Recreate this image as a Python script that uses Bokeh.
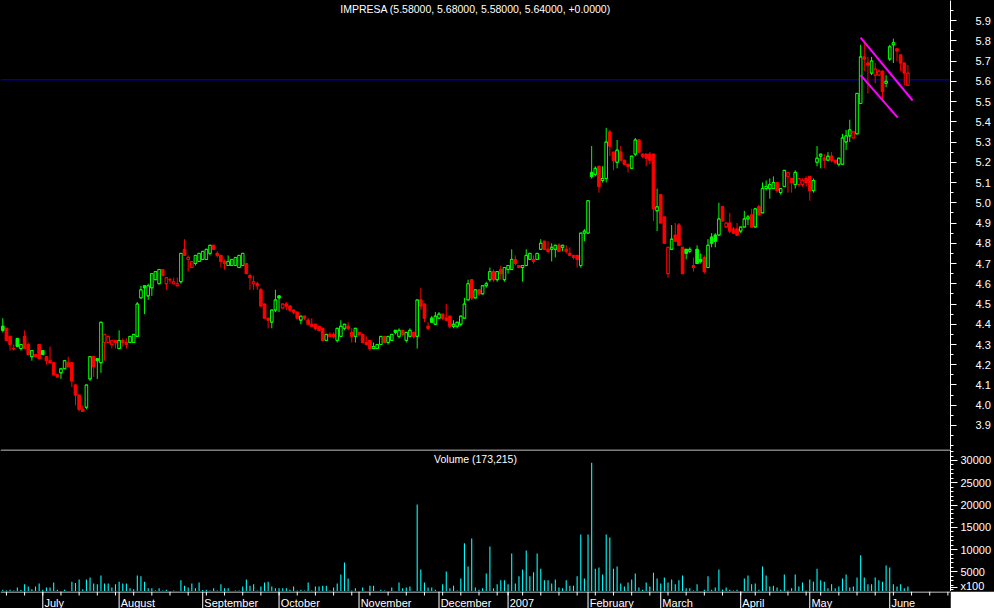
import numpy as np
import pandas as pd
from bokeh.plotting import figure
from bokeh.layouts import column
from bokeh.models import (ColumnDataSource, Range1d, LinearAxis, FixedTicker, Span,
                          NumeralTickFormatter, GlobalInlineStyleSheet)
from bokeh.core.properties import value
from bokeh.embed import file_html
from bokeh.resources import INLINE

# ---------------- data ----------------
title_text = "IMPRESA (5.58000, 5.68000, 5.58000, 5.64000, +0.0000)"
volume_title = "Volume (173,215)"
volume_unit = "x100"
first_day = "2006-06-16"
calendar_end = "2007-06-30"
holidays = ["2006-12-25", "2006-12-26", "2007-01-01", "2007-04-06", "2007-04-09", "2007-05-01"]

opens = [4.39, 4.38, 4.34, 4.28, 4.33, 4.28, 4.34, 4.30, 4.24, 4.25,
         4.30, 4.27, 4.24, 4.22, 4.21, 4.15, 4.16, 4.18, 4.21, 4.21,
         4.10, 4.05, 3.98, 3.99, 4.13, 4.24, 4.23, 4.21, 4.31, 4.31,
         4.30, 4.32, 4.28, 4.32, 4.31, 4.31, 4.31, 4.34, 4.53, 4.59,
         4.54, 4.58, 4.62, 4.60, 4.67, 4.60, 4.62, 4.60, 4.59, 4.61,
         4.77, 4.72, 4.68, 4.70, 4.71, 4.72, 4.72, 4.75, 4.79, 4.75,
         4.74, 4.71, 4.69, 4.69, 4.69, 4.68, 4.69, 4.70, 4.64, 4.60,
         4.60, 4.57, 4.50, 4.43, 4.41, 4.47, 4.54, 4.48, 4.50, 4.49,
         4.47, 4.46, 4.42, 4.44, 4.42, 4.40, 4.40, 4.39, 4.38, 4.32,
         4.35, 4.35, 4.32, 4.34, 4.38, 4.39, 4.36, 4.34, 4.36, 4.35,
         4.31, 4.32, 4.28, 4.28, 4.30, 4.34, 4.31, 4.32, 4.37, 4.34,
         4.37, 4.32, 4.34, 4.36, 4.34, 4.52, 4.50, 4.39, 4.43, 4.40,
         4.43, 4.45, 4.43, 4.44, 4.39, 4.39, 4.40, 4.43, 4.52, 4.62,
         4.53, 4.57, 4.55, 4.59, 4.62, 4.66, 4.62, 4.67, 4.62, 4.67,
         4.67, 4.72, 4.69, 4.68, 4.69, 4.72, 4.72, 4.72, 4.77, 4.81,
         4.77, 4.77, 4.77, 4.79, 4.78, 4.77, 4.75, 4.74, 4.74, 4.69,
         4.85, 4.85, 5.15, 5.14, 5.18, 5.11, 5.12, 5.35, 5.25, 5.20,
         5.25, 5.21, 5.19, 5.17, 5.24, 5.31, 5.24, 5.24, 5.24, 5.24,
         4.96, 5.04, 4.93, 4.65, 4.77, 4.84, 4.89, 4.78, 4.77, 4.76,
         4.69, 4.77, 4.72, 4.73, 4.68, 4.83, 4.84, 4.84, 4.98, 4.88,
         4.90, 4.87, 4.87, 4.86, 4.88, 4.92, 4.94, 4.88, 4.98, 4.95,
         5.07, 5.07, 5.07, 5.10, 5.05, 5.08, 5.13, 5.12, 5.09, 5.09,
         5.09, 5.12, 5.13, 5.06, 5.20, 5.23, 5.22, 5.21, 5.23, 5.21,
         5.19, 5.19, 5.30, 5.33, 5.32, 5.34, 5.49, 5.72, 5.69, 5.64,
         5.63, 5.63, 5.65, 5.59, 5.71, 5.78, 5.76, 5.73, 5.69, 5.58]

highs = [4.43, 4.38, 4.34, 4.30, 4.33, 4.30, 4.37, 4.31, 4.27, 4.25,
         4.30, 4.27, 4.24, 4.29, 4.21, 4.15, 4.18, 4.22, 4.24, 4.21,
         4.10, 4.05, 4.00, 4.10, 4.24, 4.24, 4.23, 4.41, 4.35, 4.34,
         4.32, 4.32, 4.37, 4.33, 4.33, 4.34, 4.35, 4.51, 4.59, 4.59,
         4.60, 4.65, 4.66, 4.67, 4.67, 4.63, 4.63, 4.63, 4.63, 4.75,
         4.82, 4.74, 4.71, 4.74, 4.75, 4.76, 4.77, 4.79, 4.79, 4.76,
         4.74, 4.72, 4.74, 4.72, 4.73, 4.74, 4.75, 4.70, 4.65, 4.64,
         4.61, 4.58, 4.50, 4.43, 4.47, 4.57, 4.54, 4.50, 4.51, 4.49,
         4.47, 4.46, 4.44, 4.44, 4.43, 4.43, 4.40, 4.39, 4.38, 4.35,
         4.36, 4.36, 4.38, 4.42, 4.40, 4.41, 4.38, 4.38, 4.36, 4.35,
         4.34, 4.32, 4.31, 4.30, 4.34, 4.34, 4.34, 4.35, 4.37, 4.38,
         4.37, 4.36, 4.38, 4.36, 4.52, 4.58, 4.50, 4.41, 4.44, 4.46,
         4.46, 4.45, 4.50, 4.44, 4.42, 4.41, 4.44, 4.53, 4.62, 4.62,
         4.57, 4.57, 4.59, 4.61, 4.68, 4.67, 4.66, 4.69, 4.68, 4.69,
         4.77, 4.74, 4.69, 4.69, 4.77, 4.75, 4.74, 4.75, 4.82, 4.81,
         4.81, 4.80, 4.79, 4.80, 4.79, 4.79, 4.78, 4.74, 4.74, 4.85,
         4.87, 5.01, 5.28, 5.18, 5.18, 5.18, 5.37, 5.36, 5.25, 5.31,
         5.28, 5.21, 5.19, 5.23, 5.32, 5.31, 5.24, 5.24, 5.25, 5.24,
         5.07, 5.04, 4.93, 4.78, 4.89, 4.90, 4.90, 4.78, 4.77, 4.78,
         4.73, 4.79, 4.75, 4.74, 4.82, 4.85, 4.85, 5.00, 4.98, 4.90,
         4.95, 4.88, 4.90, 4.88, 4.96, 4.94, 4.97, 4.97, 4.99, 5.10,
         5.11, 5.12, 5.13, 5.10, 5.07, 5.16, 5.15, 5.12, 5.16, 5.12,
         5.12, 5.13, 5.13, 5.12, 5.28, 5.24, 5.24, 5.25, 5.25, 5.21,
         5.22, 5.34, 5.36, 5.41, 5.35, 5.54, 5.78, 5.80, 5.72, 5.72,
         5.69, 5.66, 5.65, 5.63, 5.78, 5.81, 5.76, 5.73, 5.69, 5.68]

lows = [4.36, 4.32, 4.27, 4.27, 4.29, 4.27, 4.28, 4.25, 4.22, 4.24,
        4.23, 4.25, 4.20, 4.21, 4.15, 4.14, 4.13, 4.18, 4.19, 4.09,
        4.00, 3.97, 3.97, 3.98, 4.12, 4.14, 4.13, 4.16, 4.22, 4.31,
        4.28, 4.28, 4.28, 4.29, 4.28, 4.31, 4.31, 4.34, 4.53, 4.45,
        4.52, 4.54, 4.62, 4.60, 4.64, 4.57, 4.60, 4.60, 4.59, 4.60,
        4.74, 4.66, 4.68, 4.69, 4.71, 4.72, 4.72, 4.74, 4.77, 4.73,
        4.68, 4.67, 4.69, 4.69, 4.69, 4.68, 4.69, 4.65, 4.57, 4.57,
        4.57, 4.49, 4.43, 4.38, 4.38, 4.46, 4.46, 4.48, 4.47, 4.46,
        4.45, 4.43, 4.40, 4.42, 4.40, 4.39, 4.37, 4.37, 4.32, 4.32,
        4.34, 4.33, 4.31, 4.34, 4.37, 4.37, 4.31, 4.31, 4.34, 4.31,
        4.30, 4.27, 4.28, 4.28, 4.30, 4.31, 4.30, 4.32, 4.35, 4.33,
        4.34, 4.31, 4.34, 4.33, 4.28, 4.47, 4.41, 4.37, 4.41, 4.40,
        4.43, 4.42, 4.42, 4.38, 4.38, 4.38, 4.39, 4.43, 4.52, 4.52,
        4.53, 4.54, 4.55, 4.58, 4.61, 4.61, 4.61, 4.62, 4.61, 4.65,
        4.67, 4.69, 4.68, 4.61, 4.69, 4.72, 4.70, 4.72, 4.77, 4.77,
        4.75, 4.71, 4.73, 4.76, 4.76, 4.75, 4.74, 4.72, 4.68, 4.68,
        4.81, 4.85, 5.12, 5.13, 5.05, 5.10, 5.10, 5.23, 5.16, 5.17,
        5.21, 5.19, 5.15, 5.17, 5.23, 5.25, 5.22, 5.18, 5.19, 4.91,
        4.86, 4.90, 4.80, 4.63, 4.77, 4.81, 4.79, 4.65, 4.72, 4.75,
        4.66, 4.70, 4.70, 4.65, 4.68, 4.78, 4.78, 4.84, 4.91, 4.88,
        4.85, 4.85, 4.84, 4.85, 4.88, 4.89, 4.88, 4.88, 4.94, 4.95,
        5.06, 5.02, 5.07, 5.05, 5.04, 5.08, 5.05, 5.05, 5.07, 5.08,
        5.08, 5.08, 5.01, 5.05, 5.18, 5.17, 5.17, 5.21, 5.20, 5.19,
        5.18, 5.19, 5.26, 5.30, 5.32, 5.34, 5.49, 5.65, 5.54, 5.63,
        5.59, 5.63, 5.51, 5.57, 5.70, 5.69, 5.70, 5.65, 5.58, 5.58]

closes = [4.37, 4.32, 4.30, 4.28, 4.29, 4.30, 4.28, 4.25, 4.27, 4.24,
          4.23, 4.25, 4.22, 4.21, 4.15, 4.14, 4.18, 4.22, 4.19, 4.12,
          4.05, 3.98, 3.97, 4.10, 4.24, 4.19, 4.22, 4.41, 4.35, 4.34,
          4.32, 4.31, 4.32, 4.31, 4.30, 4.34, 4.35, 4.50, 4.57, 4.58,
          4.59, 4.65, 4.66, 4.67, 4.64, 4.63, 4.62, 4.61, 4.60, 4.75,
          4.74, 4.73, 4.71, 4.74, 4.75, 4.76, 4.77, 4.79, 4.77, 4.74,
          4.71, 4.70, 4.71, 4.72, 4.73, 4.74, 4.75, 4.65, 4.63, 4.61,
          4.59, 4.49, 4.43, 4.42, 4.47, 4.52, 4.53, 4.50, 4.49, 4.47,
          4.46, 4.43, 4.44, 4.43, 4.40, 4.39, 4.38, 4.37, 4.32, 4.35,
          4.34, 4.34, 4.38, 4.39, 4.40, 4.38, 4.34, 4.38, 4.35, 4.31,
          4.30, 4.28, 4.29, 4.30, 4.34, 4.31, 4.34, 4.35, 4.36, 4.37,
          4.35, 4.36, 4.37, 4.34, 4.52, 4.49, 4.43, 4.38, 4.41, 4.44,
          4.45, 4.43, 4.42, 4.39, 4.40, 4.41, 4.44, 4.50, 4.60, 4.53,
          4.57, 4.55, 4.59, 4.60, 4.66, 4.62, 4.66, 4.65, 4.68, 4.69,
          4.72, 4.70, 4.68, 4.69, 4.74, 4.75, 4.71, 4.75, 4.80, 4.77,
          4.76, 4.78, 4.79, 4.76, 4.79, 4.76, 4.74, 4.73, 4.72, 4.85,
          4.86, 5.01, 5.13, 5.17, 5.08, 5.12, 5.30, 5.28, 5.21, 5.26,
          5.21, 5.19, 5.18, 5.23, 5.31, 5.25, 5.23, 5.22, 5.21, 4.97,
          4.98, 4.90, 4.80, 4.78, 4.82, 4.81, 4.79, 4.65, 4.75, 4.77,
          4.68, 4.70, 4.71, 4.66, 4.79, 4.80, 4.81, 4.92, 4.91, 4.90,
          4.86, 4.85, 4.84, 4.88, 4.92, 4.93, 4.88, 4.97, 4.94, 5.07,
          5.08, 5.09, 5.10, 5.06, 5.07, 5.16, 5.15, 5.10, 5.15, 5.12,
          5.11, 5.10, 5.06, 5.11, 5.22, 5.24, 5.21, 5.23, 5.21, 5.20,
          5.22, 5.32, 5.33, 5.36, 5.35, 5.54, 5.72, 5.71, 5.68, 5.70,
          5.66, 5.65, 5.55, 5.60, 5.77, 5.79, 5.75, 5.69, 5.64, 5.64]

# volume in hundreds of shares (axis is "x100")
volumes = [1000, 800, 1000, 800, 1500, 900, 2200, 1700, 1100, 1700,
           2400, 1000, 1500, 1500, 2600, 1000, 700, 1000, 600, 2800,
           2500, 3300, 1100, 3300, 3700, 2400, 2200, 4200, 2400, 2400,
           1500, 2200, 2800, 2400, 2400, 1300, 1100, 4200, 4000, 2800,
           1300, 1300, 800, 1300, 800, 1000, 600, 800, 500, 3100,
           1900, 1500, 2400, 1300, 2600, 900, 1000, 800, 1300, 800,
           2200, 1300, 1300, 500, 800, 800, 1700, 3300, 1900, 2200,
           800, 1700, 2600, 2800, 1700, 1300, 1300, 1300, 1300, 1000,
           1700, 800, 1000, 800, 2600, 800, 1700, 1700, 1900, 1900,
           800, 1500, 2400, 4400, 7100, 3500, 800, 1300, 600, 1500,
           500, 1900, 1900, 500, 1000, 800, 500, 1500, 500, 2600,
           1300, 1500, 1700, 500, 20100, 5500, 2600, 1500, 1500, 1000,
           500, 2200, 5100, 1300, 1900, 800, 3500, 11400, 6200, 12500,
           1500, 1000, 1300, 4600, 10700, 1300, 2200, 3100, 3100, 2200,
           9100, 2400, 4000, 5500, 9800, 4000, 4900, 9100, 5700, 3100,
           3100, 2400, 3300, 1500, 1300, 3100, 1900, 1900, 4000, 13400,
           3500, 13400, 29500, 5700, 6000, 4400, 13400, 12700, 5700, 6200,
           2400, 1700, 2600, 3300, 4600, 1500, 1000, 2600, 1700, 4800,
           3500, 2400, 3700, 2600, 3300, 2200, 3100, 4200, 1300, 1300,
           800, 2200, 500, 1000, 4000, 1000, 1500, 5500, 1000, 1500,
           1000, 800, 1000, 500, 3500, 4200, 2200, 2400, 1000, 6200,
           4200, 1700, 1900, 1500, 1000, 4400, 800, 1300, 4400, 1700,
           2600, 800, 3300, 2800, 5700, 3100, 2800, 1300, 2200, 1300,
           1700, 3500, 4400, 1500, 1700, 3700, 8700, 3700, 2200, 2200,
           3700, 3100, 2800, 6400, 6000, 2200, 1700, 2200, 1300, 1732]

reference_level = 5.607          # horizontal blue line
trend_x0 = [236.0, 236.0]
trend_y0 = [5.815, 5.630]
trend_x1 = [250.3, 246.2]
trend_y1 = [5.505, 5.420]

price_ticks = [3.9, 4.0, 4.1, 4.2, 4.3, 4.4, 4.5, 4.6, 4.7, 4.8, 4.9,
               5.0, 5.1, 5.2, 5.3, 5.4, 5.5, 5.6, 5.7, 5.8, 5.9]
volume_ticks = [5000, 10000, 15000, 20000, 25000, 30000]

# ---------------- styling / layout ----------------
FONT = "Liberation Sans"
GREEN, RED, CYAN, MAGENTA = "#00FF00", "#FF0000", "#00FFFF", "#FF00FF"
W = 994
X_RANGE = (-0.633, 260.715)      # bar index range spanning the 950 px frame

n = len(closes)
x = np.arange(n)
o = np.array(opens); h = np.array(highs); lo = np.array(lows); c = np.array(closes)
prev = np.concatenate([[-np.inf], c[:-1]])
colors = np.where(c > prev, GREEN, RED)
fills = np.where(c > o, "black", colors)
src = ColumnDataSource(dict(
    x=x, xl=x - 0.36, xr=x + 0.36,
    hi=np.maximum(h, np.maximum(o, c)), lo=np.minimum(lo, np.minimum(o, c)),
    top=np.maximum(o, c), bot=np.minimum(o, c), c=c, o=o,
    color=colors, fill=fills))

# trading calendar
days = pd.bdate_range(first_day, calendar_end)
days = days[~days.isin(pd.to_datetime(holidays))]
last_idx = int(X_RANGE[1])
month_ticks = [i for i in range(1, last_idx + 1) if days[i].month != days[i - 1].month]
month_labels = ["2007" if days[i].month == 1 else days[i].strftime("%B") for i in month_ticks]
week_ticks = [i for i in range(1, last_idx + 1)
              if days[i].isocalendar()[1] != days[i - 1].isocalendar()[1]]

xr = Range1d(*X_RANGE)


def make_fig(height, y_range, border="black"):
    f = figure(width=W, height=height, x_range=xr, y_range=y_range,
               output_backend="svg", toolbar_location=None, tools="",
               x_axis_location=None, y_axis_location=None,
               background_fill_color="black", border_fill_color=border,
               outline_line_color=None, min_border=0, min_border_left=0,
               min_border_top=0, min_border_bottom=0, min_border_right=44)
    f.grid.visible = False
    return f


def style_axis(ax, tick_out, minor_out, standoff):
    ax.axis_line_color = "white"
    ax.major_tick_line_color = "white"
    ax.minor_tick_line_color = "white"
    ax.major_tick_in = 0
    ax.minor_tick_in = 0
    ax.major_tick_out = tick_out
    ax.minor_tick_out = minor_out
    ax.major_label_text_color = "white"
    ax.major_label_text_font = FONT
    ax.major_label_text_font_size = "11px"
    ax.major_label_standoff = standoff


# ---- price panel ----
p = make_fig(449, Range1d(3.78148, 5.99877))
p.add_layout(Span(location=reference_level, dimension="width", line_color="#0000D8",
                  line_width=1, level="underlay"))
p.segment(x0="x", y0="lo", x1="x", y1="hi", line_color="color", line_width=1, source=src)
p.vbar(x="x", width=0.72, top="top", bottom="bot", fill_color="fill",
       line_color="color", line_width=1, source=src)
p.segment(x0="xl", y0="c", x1="xr", y1="c", line_color="color", line_width=1, source=src)
p.segment(x0="xl", y0="o", x1="xr", y1="o", line_color="color", line_width=1, source=src)
p.segment(x0=trend_x0, y0=trend_y0, x1=trend_x1, y1=trend_y1,
          line_color=MAGENTA, line_width=2)
p.text(x=[(X_RANGE[0] + X_RANGE[1]) / 2], y=[5.958], text=[title_text],
       text_color="white", text_font=value(FONT), text_font_size="10.5px",
       text_align="center", text_baseline="middle")
pax = LinearAxis(ticker=FixedTicker(ticks=price_ticks,
                                    minor_ticks=[round(3.8 + 0.05 * k, 2) for k in range(45)]),
                 formatter=NumeralTickFormatter(format="0.0"))
style_axis(pax, 6, 3, 19)
p.add_layout(pax, "right")

# ---- volume panel ----
v = make_fig(142, Range1d(584, 32465))
v.add_layout(Span(location=32353, dimension="width", line_color="white", line_width=1))
v.vbar(x=x, width=0.3, top=volumes, bottom=0, fill_color=CYAN, line_color=None)
v.text(x=[(X_RANGE[0] + X_RANGE[1]) / 2], y=[30333], text=[volume_title],
       text_color="white", text_font=value(FONT), text_font_size="10.5px",
       text_align="center", text_baseline="middle")
unit_pos = 1500
vax = LinearAxis(ticker=FixedTicker(ticks=volume_ticks + [unit_pos],
                                    minor_ticks=list(range(1000, 33000, 1000))),
                 formatter=NumeralTickFormatter(format="0"),
                 major_label_overrides={unit_pos: volume_unit})
style_axis(vax, 7, 3, 3)
v.add_layout(vax, "right")

# ---- date strip ----
s = make_fig(17, Range1d(0, 17), border="white")
s.segment(x0=[X_RANGE[0]], y0=[16.5], x1=[X_RANGE[1]], y1=[16.5], line_color="white")
s.segment(x0=month_ticks, y0=0, x1=month_ticks, y1=17, line_color="white", line_width=1)
s.segment(x0=week_ticks, y0=13, x1=week_ticks, y1=17, line_color="white", line_width=1)
s.text(x=[m + 0.45 for m in month_ticks], y=5.2, text=month_labels, text_color="white",
       text_font=value(FONT), text_font_size="11px", text_align="left",
       text_baseline="alphabetic")

page_css = GlobalInlineStyleSheet(
    css="html, body {margin:0; padding:0; background:#000; overflow:hidden;}")
layout = column(p, v, s, spacing=0, stylesheets=[page_css])

open("out.html", "w").write(file_html(layout, INLINE))
